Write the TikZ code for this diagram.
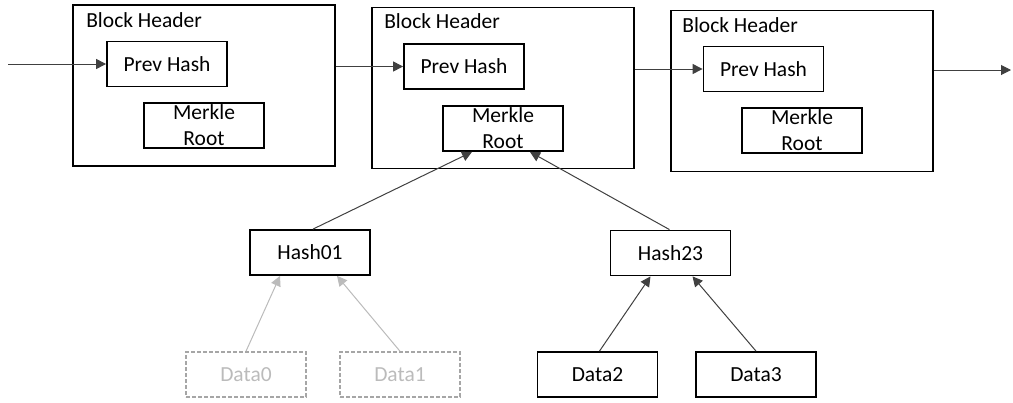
\documentclass[tikz,border=0pt]{standalone}
\usepackage{fontspec}
\setmainfont{Carlito}
\usetikzlibrary{arrows.meta,calc}
\definecolor{lineclr}{HTML}{404040}
\definecolor{graybox}{HTML}{A6A6A6}
\definecolor{graytxt}{HTML}{BBBBBB}
\tikzset{
  blockbox/.style={draw=black,line width=1.8pt,rectangle,minimum width=262pt,minimum height=161pt,inner sep=0pt},
  fieldbox/.style={draw=black,line width=1.8pt,rectangle,minimum width=120pt,minimum height=45pt,inner sep=0pt,align=center,font=\fontsize{21.5}{26.5}\selectfont},
  mrtext/.style={align=center,inner sep=0pt,font=\fontsize{21.5}{25.5}\selectfont},
  hdrtext/.style={anchor=base west,inner sep=0pt,font=\fontsize{21.5}{26}\selectfont},
  graybox/.style={draw=graybox,line width=1.5pt,dash pattern=on 4pt off 2pt,rectangle,minimum width=120pt,minimum height=45pt,inner sep=0pt,text=graytxt,font=\fontsize{21.5}{26}\selectfont},
  link/.style={draw=lineclr,line width=1pt,-{Triangle[length=10pt,width=10pt]}},
  graylink/.style={draw=graytxt,line width=1pt,-{Triangle[length=10pt,width=10pt]}}
}
\begin{document}
\begin{tikzpicture}[x=1pt,y=-1pt]
\useasboundingbox (0,0) rectangle (1013,402);
% blocks
\node[blockbox] (blk1) at (204,85.5) {};
\node[blockbox] (blk2) at (503,88) {};
\node[blockbox] (blk3) at (802,91) {};
\node[hdrtext] (hdr1) at ($(blk1.north west)+(14,23)$) {Block Header};
\node[hdrtext] (hdr2) at ($(blk2.north west)+(13,22)$) {Block Header};
\node[hdrtext] (hdr3) at ($(blk3.north west)+(12,23)$) {Block Header};
\node[fieldbox] (prev1) at (167,64) {Prev Hash};
\node[fieldbox] (prev2) at (464,66.5) {Prev Hash};
\node[fieldbox] (prev3) at (763.5,69) {Prev Hash};
\node[fieldbox] (mr1) at (204,125.5) {};
\node[fieldbox] (mr2) at (503,128.5) {};
\node[fieldbox] (mr3) at (802,130.5) {};
\node[mrtext] (mrt1) at ($(mr1.center)+(0,-0.5)$) {Merkle\\Root};
\node[mrtext] (mrt2) at ($(mr2.center)+(0,-0.5)$) {Merkle\\Root};
\node[mrtext] (mrt3) at ($(mr3.center)+(0,-0.5)$) {Merkle\\Root};
% hashes and data
\node[fieldbox] (h01) at (310,252.5) {Hash01};
\node[fieldbox] (h23) at (670.5,253) {Hash23};
\node[graybox] (d0) at (246,374.5) {Data0};
\node[graybox] (d1) at (400,374.5) {Data1};
\node[fieldbox] (d2) at (597.5,374.5) {Data2};
\node[fieldbox] (d3) at (756,374.5) {Data3};
% chain connectors
\coordinate (cin) at (8,64);
\coordinate (cout) at (1011,70);
\draw[link] (cin) -- (prev1.west);
\draw[link] (blk1.east |- prev2.west) -- (prev2.west);
\draw[link] (blk2.east |- prev3.west) -- (prev3.west);
\draw[link] (blk3.east |- cout) -- (cout);
% merkle connectors
\draw[link] ($(h01.north)+(3,0)$) -- ($(mr2.south)+(-31,0)$);
\draw[link] ($(h23.north)+(-1,0)$) -- ($(mr2.south)+(27,0)$);
\draw[graylink] (d0.north) -- ($(h01.south)+(-30,0)$);
\draw[graylink] (d1.north) -- ($(h01.south)+(27,0)$);
\draw[link] ($(d2.north)+(2,0)$) -- ($(h23.south)+(-20,0)$);
\draw[link] (d3.north) -- ($(h23.south)+(22,0)$);
\end{tikzpicture}
\end{document}
